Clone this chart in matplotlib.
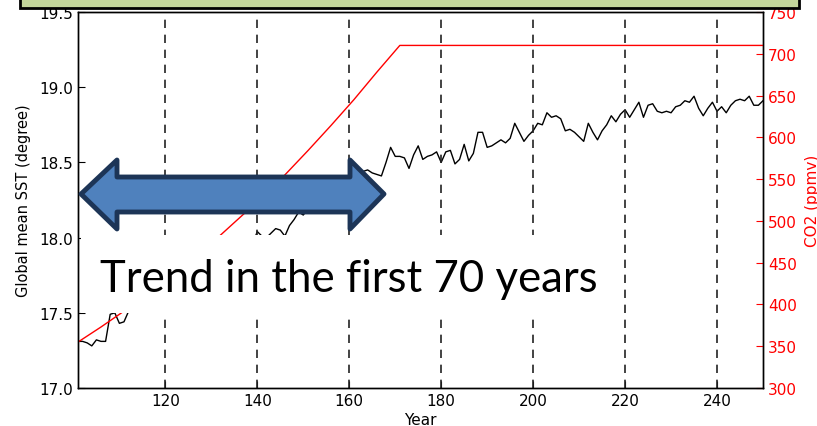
import matplotlib
matplotlib.use("Agg")
import matplotlib.pyplot as plt
from matplotlib.patches import Rectangle, Polygon
import numpy as np

W, H = 817, 427

years = list(range(101, 251))
sst = [
    17.31, 17.31, 17.30, 17.28, 17.32, 17.31, 17.31, 17.49, 17.50, 17.43,  # 101-110
    17.44, 17.51, 17.55, 17.58, 17.52, 17.60, 17.63, 17.58, 17.66, 17.70,  # 111-120
    17.65, 17.72, 17.75, 17.70, 17.78, 17.76, 17.82, 17.80, 17.85, 17.83,  # 121-130
    17.88, 17.90, 17.86, 17.93, 17.95, 17.91, 17.97, 17.99, 17.96, 18.04,  # 131-140
    18.01, 18.00, 18.03, 18.06, 18.05, 18.01, 18.08, 18.12, 18.17, 18.15,  # 141-150
    18.19, 18.22, 18.20, 18.26, 18.28, 18.25, 18.31, 18.34, 18.30, 18.36,  # 151-160
    18.38, 18.40, 18.44, 18.45, 18.43, 18.42, 18.41, 18.50, 18.60, 18.54,  # 161-170
    18.54, 18.53, 18.46, 18.55, 18.61, 18.52, 18.54, 18.55, 18.57, 18.50,  # 171-180
    18.57, 18.58, 18.49, 18.52, 18.62, 18.51, 18.56, 18.70, 18.70, 18.60,  # 181-190
    18.61, 18.63, 18.65, 18.63, 18.66, 18.76, 18.70, 18.64, 18.68, 18.71,  # 191-200
    18.76, 18.75, 18.83, 18.80, 18.81, 18.79, 18.71, 18.72, 18.70, 18.67,  # 201-210
    18.64, 18.76, 18.70, 18.65, 18.71, 18.75, 18.81, 18.77, 18.82, 18.85,  # 211-220
    18.80, 18.85, 18.90, 18.80, 18.88, 18.89, 18.84, 18.83, 18.84, 18.83,  # 221-230
    18.87, 18.88, 18.91, 18.90, 18.94, 18.86, 18.81, 18.86, 18.90, 18.84,  # 231-240
    18.87, 18.83, 18.88, 18.91, 18.92, 18.91, 18.94, 18.88, 18.88, 18.91,  # 241-250
]

co2_years = [101, 106, 111, 116, 121, 126, 131, 136, 141, 146, 151, 156, 161, 166, 171, 250]
co2 = [355, 373, 392, 412, 433, 455, 478, 503, 528, 555, 584, 614, 645, 678, 710, 710]

xticks = [120, 140, 160, 180, 200, 220, 240]
yticks_left = [17.0, 17.5, 18.0, 18.5, 19.0, 19.5]
yticks_right = [300, 350, 400, 450, 500, 550, 600, 650, 700, 750]
annotation = "Trend in the first 70 years"

fig = plt.figure(figsize=(W / 100, H / 100), dpi=100)
left, right, top, bottom = 78, 763, 13, 389
ax = fig.add_axes([left / W, 1 - bottom / H, (right - left) / W, (bottom - top) / H])
ax2 = ax.twinx()

ax.plot(years, sst, color="black", lw=1.0)
for xv in xticks:
    ax.axvline(xv, color="#222222", lw=1.2, dashes=(5, 4))
ax.set_xlim(101, 250)
ax.set_ylim(17.0, 19.5)
ax.set_xticks(xticks)
ax.set_yticks(yticks_left)
ax.set_yticklabels([f"{v:.1f}" for v in yticks_left])
ax.tick_params(direction="in", labelsize=11, length=5, colors="black")
ax.set_xlabel("Year", fontsize=11, labelpad=3)
ax.set_ylabel("Global mean SST (degree)", fontsize=10.5, labelpad=6)

ax2.plot(co2_years, co2, color="red", lw=1.0)
ax2.set_ylim(300, 750)
ax2.set_yticks(yticks_right)
ax2.tick_params(direction="in", labelsize=11, length=5, colors="red")
ax2.set_ylabel("CO2 (ppmv)", color="red", fontsize=11, labelpad=6)
for a in (ax, ax2):
    for s in a.spines.values():
        s.set_linewidth(1.0)

def fx(x):
    return x / W

def fy(y):
    return 1 - y / H

# white box behind text
fig.patches.append(Rectangle((fx(81), fy(314)), fx(605) - fx(81), fy(236) - fy(314),
                             transform=fig.transFigure, facecolor="white",
                             edgecolor="none", zorder=5))
fig.text(fx(100), fy(292), annotation, fontsize=31.5, family="Lato",
         color="black", ha="left", va="baseline", zorder=6)

# double arrow
pts = [(81, 195), (117, 161), (117, 178), (350, 178), (350, 161), (384, 195),
       (350, 230), (350, 213), (117, 213), (117, 230)]
fig.patches.append(Polygon([(fx(x), fy(y)) for x, y in pts], closed=True,
                           transform=fig.transFigure, facecolor="#4f81bd",
                           edgecolor="#1d3557", lw=3.5, joinstyle="round", zorder=7))

# green header box
fig.patches.append(Rectangle((fx(20), fy(9)), fx(799) - fx(20), fy(-10) - fy(9),
                             transform=fig.transFigure, facecolor="#c3d69b",
                             edgecolor="black", lw=2, zorder=8))

fig.savefig("out.png", dpi=100)
